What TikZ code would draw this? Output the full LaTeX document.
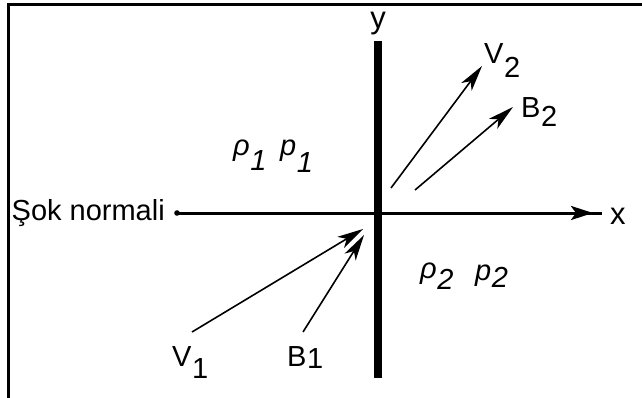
\documentclass[tikz,border=0pt]{standalone}
\usepackage{fontspec}
\setmainfont{Liberation Sans}
\usetikzlibrary{arrows.meta,decorations.markings}
\newcommand{\lowsub}[3]{#1\kern0.5pt\raisebox{-#3pt}{#2}}
\begin{document}
\begin{tikzpicture}[x=1pt,y=-1pt,
  lab/.style={font=\fontsize{29}{33}\selectfont, inner sep=0pt, anchor=base west},
  axlab/.style={font=\fontsize{31}{35}\selectfont, inner sep=0pt, anchor=base},
  greek/.style={lab, font=\fontsize{29}{33}\selectfont\itshape},
  vec/.style={line width=1.6pt, -{Stealth[length=26pt,width=13pt,inset=7pt]}},
  frameline/.style={line width=3pt},
]
\useasboundingbox (0,0) rectangle (642,398);
% frame (top and left only)
\draw[frameline] (8.5,398) -- (8.5,4.5) -- (642,4.5);
% axes
\coordinate (xstart) at (177,213);
\coordinate (xend) at (602,213);
\coordinate (ytop) at (378,41);
\coordinate (ybot) at (378,378);
\draw[line width=3pt, postaction={decorate},
  decoration={markings, mark=at position -9pt with {\arrow{Stealth[length=22pt,width=14pt,inset=5pt]}}}]
  (xstart) -- (xend);
\fill (xstart) circle (2.8);
\draw[line width=8pt] (ytop) -- (ybot);
% labels
\node[lab, anchor=base east] (sok) at (165,220) {Şok normali};
\node[axlab] (ylab) at (378,29) {y};
\node[axlab, anchor=base west] (xlab) at (610,224) {x};
% vectors
\coordinate (v1s) at (192,332);
\coordinate (v1e) at (363,229);
\coordinate (b1s) at (303,332);
\coordinate (b1e) at (364,235);
\coordinate (v2s) at (391,188);
\coordinate (v2e) at (482,66);
\coordinate (b2s) at (415,190);
\coordinate (b2e) at (513,107);
\draw[vec] (v1s) -- (v1e);
\draw[vec] (b1s) -- (b1e);
\draw[vec] (v2s) -- (v2e);
\draw[vec] (b2s) -- (b2e);
\node[lab] (v2lab) at (484,64) {\lowsub{V}{2}{14}};
\node[lab] (b2lab) at (521,118) {\lowsub{B}{2}{9}};
\node[lab] (v1lab) at (172,366) {\lowsub{V}{1}{12}};
\node[lab] (b1lab) at (287,366) {\lowsub{B}{1}{2}};
\node[greek] (rho1) at (233,156) {\lowsub{ρ}{1}{15}};
\node[greek] (p1) at (280,156) {\lowsub{p}{1}{17}};
\node[greek] (rho2) at (420,278) {\lowsub{ρ}{2}{11}};
\node[greek] (p2) at (475,280) {\lowsub{p}{2}{7}};
\end{tikzpicture}
\end{document}
